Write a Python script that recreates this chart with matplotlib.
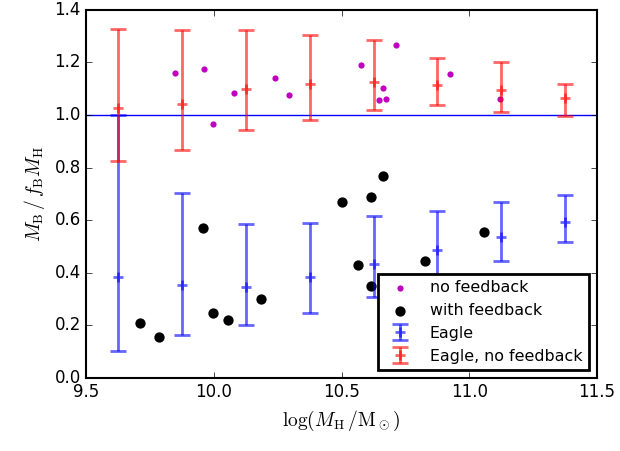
import matplotlib
matplotlib.use("Agg")
import matplotlib.pyplot as plt

plt.style.use('classic')
plt.rcParams['mathtext.fontset'] = 'cm'
plt.rcParams['font.family'] = 'DejaVu Sans'

# simulation points
nofb_x = [9.847, 9.959, 9.994, 10.080, 10.238, 10.293, 10.577, 10.714, 10.662, 10.645, 10.675, 10.923, 11.122]
nofb_y = [1.160, 1.174, 0.966, 1.083, 1.142, 1.077, 1.191, 1.267, 1.104, 1.057, 1.060, 1.156, 1.063]
fb_x = [9.709, 9.785, 9.957, 9.994, 10.053, 10.184, 10.500, 10.564, 10.615, 10.617, 10.662, 10.828, 11.060]
fb_y = [0.210, 0.156, 0.569, 0.248, 0.221, 0.299, 0.669, 0.430, 0.687, 0.350, 0.768, 0.444, 0.556]

# Eagle binned medians with percentile ranges
bins = [9.625, 9.875, 10.125, 10.375, 10.625, 10.875, 11.125, 11.375]
eagle_mid = [0.383, 0.352, 0.347, 0.384, 0.432, 0.487, 0.536, 0.592]
eagle_lo = [0.101, 0.165, 0.200, 0.247, 0.308, 0.340, 0.444, 0.516]
eagle_hi = [1.000, 0.702, 0.586, 0.589, 0.617, 0.636, 0.669, 0.696]
enf_mid = [1.027, 1.044, 1.098, 1.118, 1.125, 1.115, 1.094, 1.066]
enf_lo = [0.826, 0.867, 0.943, 0.981, 1.018, 1.037, 1.010, 0.995]
enf_hi = [1.327, 1.322, 1.325, 1.304, 1.285, 1.219, 1.200, 1.119]

fig = plt.figure(figsize=(6.2, 4.51), dpi=100, facecolor='white')
ax = fig.add_axes([0.1395, 0.162, 0.823, 0.816])

ax.axhline(1.0, color='b', lw=1)
ax.scatter(nofb_x, nofb_y, s=20, c='m', lw=0, label='no feedback')
ax.scatter(fb_x, fb_y, s=55, c='k', lw=0, label='with feedback')

err_e = [[m - l for m, l in zip(eagle_mid, eagle_lo)], [h - m for m, h in zip(eagle_mid, eagle_hi)]]
err_n = [[m - l for m, l in zip(enf_mid, enf_lo)], [h - m for m, h in zip(enf_mid, enf_hi)]]
ax.errorbar(bins, eagle_mid, yerr=err_e, fmt='+', color='b', alpha=0.6, ms=7, mew=2,
            elinewidth=2, capsize=5.6, capthick=2, label='Eagle')
ax.errorbar(bins, enf_mid, yerr=err_n, fmt='+', color='r', alpha=0.6, ms=7, mew=2,
            elinewidth=2, capsize=5.6, capthick=2, label='Eagle, no feedback')

ax.set_xlim(9.5, 11.5)
ax.set_ylim(0, 1.4)
ax.set_xlabel(r'$\log(M_{\rm H}\,/{\rm M}_\odot)$', fontsize=14)
ax.set_ylabel(r'$M_{\rm B}\,/\,f_{\rm B}M_{\rm H}$', fontsize=14)
for s in ax.spines.values():
    s.set_linewidth(1.5)
ax.tick_params(labelsize=12)

leg = ax.legend(loc='lower right', scatterpoints=1, numpoints=1, fontsize=11.4,
                fancybox=False, handletextpad=0.9)
leg.get_frame().set_linewidth(2)

fig.savefig('out.png', dpi=100, facecolor='white')
